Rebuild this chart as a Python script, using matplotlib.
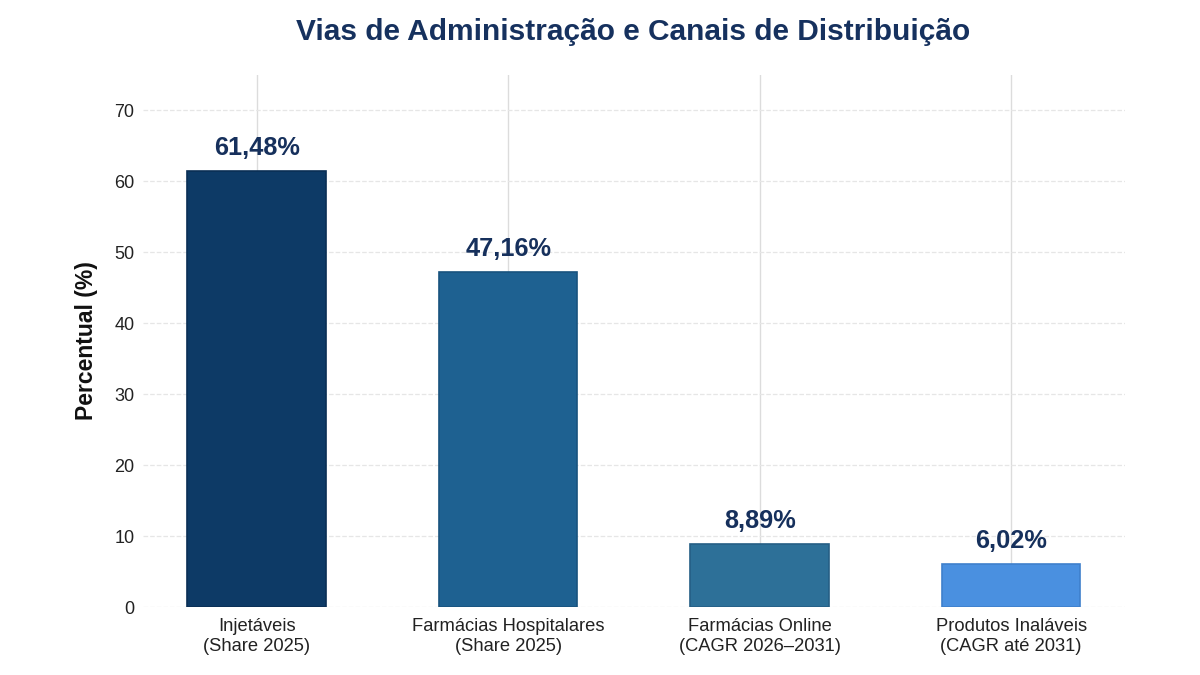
import numpy as np
import matplotlib
matplotlib.use('Agg')
import matplotlib.pyplot as plt

plt.rcParams['font.family'] = ['Liberation Sans', 'DejaVu Sans']

# Data
categories = ['Injetáveis\n(Share 2025)',
              'Farmácias Hospitalares\n(Share 2025)',
              'Farmácias Online\n(CAGR 2026–2031)',
              'Produtos Inaláveis\n(CAGR até 2031)']
values = [61.48, 47.16, 8.89, 6.02]
value_labels = ['61,48%', '47,16%', '8,89%', '6,02%']
bar_colors = ['#0d3a66', '#1e6191', '#2d7098', '#4a90e0']
edge_colors = ['#0a2f55', '#18537e', '#255f85', '#3f80cc']

title_color = '#16315e'
label_color = '#16305c'

fig = plt.figure(figsize=(12, 6.75), dpi=100)
ax = fig.add_axes([0.119, 0.1007, 0.8185, 0.7882])

x = np.arange(len(categories))
ax.bar(x, values, width=0.55, color=bar_colors, edgecolor=edge_colors,
       linewidth=1.2, zorder=3)

for xi, v, lab in zip(x, values, value_labels):
    ax.text(xi, v + 1.6, lab, ha='center', va='bottom', fontsize=18.3,
            fontweight='bold', color=label_color, zorder=4)

ax.set_ylim(0, 75)
ax.set_yticks(np.arange(0, 71, 10))
ax.set_xticks(x)
ax.set_xticklabels(categories, fontsize=13.2, color='#222222')
ax.tick_params(axis='y', labelsize=13, colors='#222222', length=0, pad=6)
ax.tick_params(axis='x', length=0, pad=8)

ax.yaxis.grid(True, linestyle='--', color='#e6e6e6', linewidth=0.9, zorder=0)
ax.xaxis.grid(True, linestyle='-', color='#dcdcdc', linewidth=1.0, zorder=0)
ax.set_axisbelow(True)
for s in ax.spines.values():
    s.set_visible(False)

ax.set_ylabel('Percentual (%)', fontsize=16.5, fontweight='bold', color='#111111',
              labelpad=12)
fig.suptitle('Vias de Administração e Canais de Distribuição', fontsize=21.5,
             fontweight='bold', color=title_color, x=0.528, y=0.953, va='center')

fig.savefig('out.png', dpi=100, facecolor='white')
